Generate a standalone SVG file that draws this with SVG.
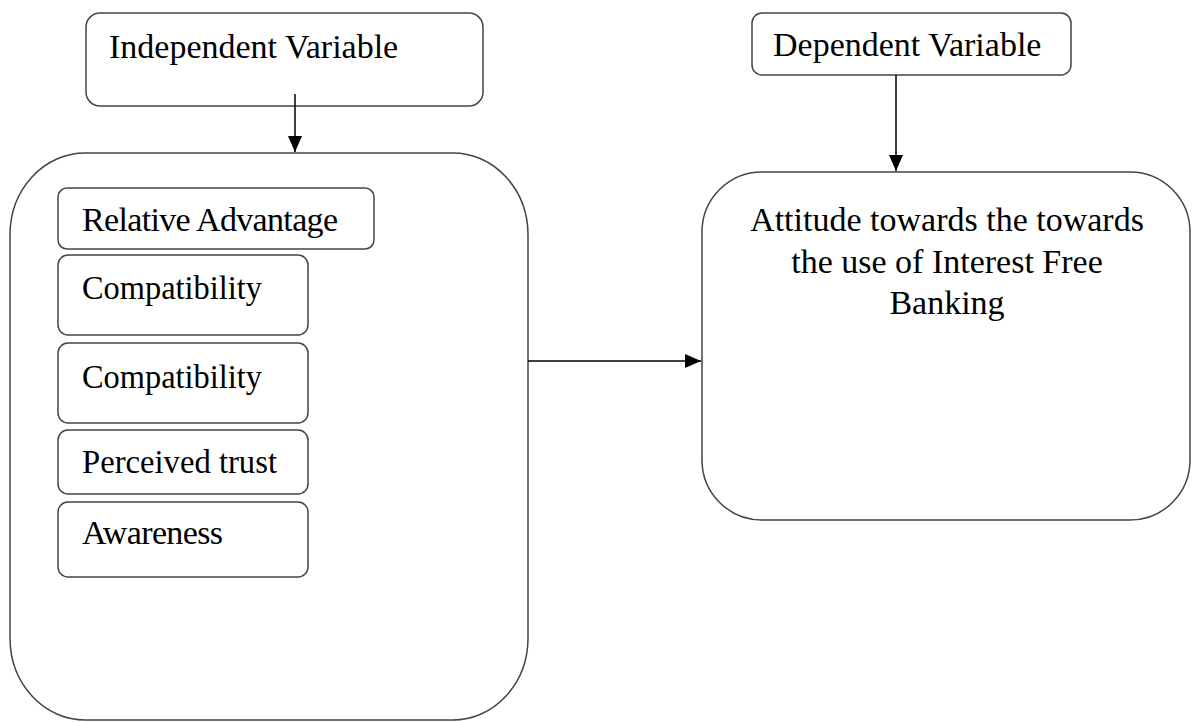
<svg xmlns="http://www.w3.org/2000/svg" width="1192" height="722" viewBox="0 0 1192 722">
<defs>
<style>
.box{fill:#fff;stroke:#444;stroke-width:1.5}
.t{font-family:"Liberation Serif","Times New Roman",serif;font-size:34px;fill:#000}
.c{stroke:#000;stroke-width:1.5;fill:none}
</style>
<marker id="ah" viewBox="0 0 16 14" refX="16" refY="7" markerWidth="16" markerHeight="14" markerUnits="userSpaceOnUse" orient="auto">
<path d="M0,0 L16,7 L0,14 Z" fill="#000"/>
</marker>
</defs>
<rect width="1192" height="722" fill="#fff"/>
<g id="independent-variable">
<rect class="box" x="86" y="13" width="397" height="93" rx="14"/>
<text class="t" x="109" y="58">Independent Variable</text>
</g>
<g id="dependent-variable">
<rect class="box" x="752" y="13" width="319" height="62" rx="10"/>
<text class="t" x="773" y="56">Dependent Variable</text>
</g>
<g id="independent-group">
<rect class="box" x="10" y="153" width="518" height="567" rx="75" ry="82"/>
</g>
<g id="relative-advantage">
<rect class="box" x="58" y="188" width="316" height="61" rx="9"/>
<text class="t" x="82" y="231" textLength="256" lengthAdjust="spacing">Relative Advantage</text>
</g>
<g id="compatibility-1">
<rect class="box" x="58" y="255" width="250" height="80" rx="10"/>
<text class="t" x="82" y="299" textLength="180" lengthAdjust="spacingAndGlyphs">Compatibility</text>
</g>
<g id="compatibility-2">
<rect class="box" x="58" y="343" width="250" height="80" rx="10"/>
<text class="t" x="82" y="388" textLength="180" lengthAdjust="spacingAndGlyphs">Compatibility</text>
</g>
<g id="perceived-trust">
<rect class="box" x="58" y="430" width="250" height="64" rx="10"/>
<text class="t" x="82" y="473" textLength="195" lengthAdjust="spacingAndGlyphs">Perceived trust</text>
</g>
<g id="awareness">
<rect class="box" x="58" y="502" width="250" height="75" rx="10"/>
<text class="t" x="82" y="544" textLength="141" lengthAdjust="spacing">Awareness</text>
</g>
<g id="attitude">
<rect class="box" x="702" y="172" width="488" height="348" rx="60"/>
<text class="t" text-anchor="middle" x="947" y="231">Attitude towards the towards</text>
<text class="t" text-anchor="middle" x="947" y="273">the use of Interest Free</text>
<text class="t" text-anchor="middle" x="947" y="314">Banking</text>
</g>
<g id="connectors">
<line class="c" x1="295" y1="94" x2="295" y2="152" marker-end="url(#ah)"/>
<line class="c" x1="896" y1="75" x2="896" y2="171" marker-end="url(#ah)"/>
<line class="c" x1="528" y1="361" x2="701" y2="361" marker-end="url(#ah)"/>
</g>
</svg>
